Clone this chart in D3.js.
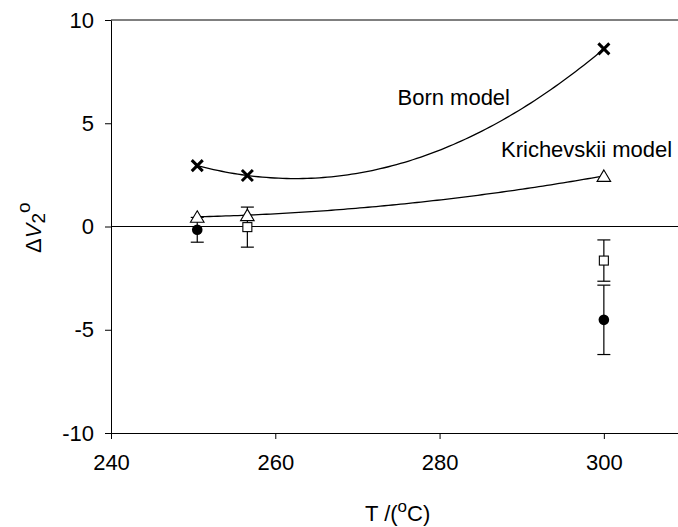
<!DOCTYPE html>
<html>
<head>
<meta charset="utf-8">
<script src="https://cdn.jsdelivr.net/npm/d3@7"></script>
<style>
  body { margin: 0; background: #fff; }
  svg text { font-family: "Liberation Sans", Arial, sans-serif; fill: #000; }
</style>
</head>
<body>
<div id="container"></div>
<script>
// model temperatures and values
var temps = [250.5, 256.6, 300];
var bornVals = [2.95, 2.47, 8.6];
var krichVals = [0.47, 0.55, 2.45];

// experimental points with error bars
var circleT = [250.5, 300];
var circleVals = [-0.16, -4.52];
var circleErr = [0.6, 1.68];

var squareT = [256.6, 300];
var squareVals = [-0.03, -1.65];
var squareErr = [0.97, 1.0];

var xTicks = [240, 260, 280, 300];
var yTicks = [-10, -5, 0, 5, 10];

var vis = {
	w: 678,
	h: 527,

	// quadratic through three points, as the fit lines pass through them
	fitLine: function(xs, ys){
		return function(x){
			var s = 0;
			for (var i = 0; i < xs.length; i++) {
				var p = ys[i];
				for (var j = 0; j < xs.length; j++) {
					if (j !== i) p *= (x - xs[j]) / (xs[i] - xs[j]);
				}
				s += p;
			}
			return s;
		};
	},

	generate: function(){
		var self = vis;

		var x = d3.scaleLinear().domain([240, 310]).range([111, 686]);
		var y = d3.scaleLinear().domain([-10, 10]).range([433, 20]);

		var svg = d3.select('#container').append('svg')
			.attr('width', self.w)
			.attr('height', self.h);

		// frame lines (top and zero line)
		svg.append('line')
			.attr('x1', x(240)).attr('x2', self.w)
			.attr('y1', y(10)).attr('y2', y(10))
			.attr('stroke', '#000').attr('stroke-width', 1);
		svg.append('line')
			.attr('x1', x(240)).attr('x2', self.w)
			.attr('y1', y(0)).attr('y2', y(0))
			.attr('stroke', '#000').attr('stroke-width', 1);

		var fmt = function(d){ return String(d); };

		var xAxis = svg.append('g')
			.attr('transform', 'translate(0,' + y(-10) + ')')
			.call(d3.axisBottom(x).tickValues(xTicks).tickFormat(fmt).tickSize(6).tickPadding(15).tickSizeOuter(0));
		var yAxis = svg.append('g')
			.attr('transform', 'translate(' + x(240) + ',0)')
			.call(d3.axisLeft(y).tickValues(yTicks).tickFormat(fmt).tickSize(6).tickPadding(11).tickSizeOuter(0));

		[xAxis, yAxis].forEach(function(g){
			g.selectAll('text').style('font-size', '22px').style('font-family', '"Liberation Sans", Arial, sans-serif');
			g.selectAll('line,path').attr('stroke', '#000');
			g.select('.domain').attr('stroke-width', 1);
		});
		xAxis.select('.domain').attr('d', 'M' + x(240) + ',0.5H' + self.w);

		// fit curves
		var lineGen = d3.line()
			.x(function(d){ return x(d[0]); })
			.y(function(d){ return y(d[1]); });

		[bornVals, krichVals].forEach(function(vals){
			var f = self.fitLine(temps, vals);
			var pts = d3.range(0, 101).map(function(i){
				var t = temps[0] + (temps[2] - temps[0]) * i / 100;
				return [t, f(t)];
			});
			svg.append('path')
				.attr('d', lineGen(pts))
				.attr('fill', 'none')
				.attr('stroke', '#000')
				.attr('stroke-width', 1.3);
		});

		// error bars
		var errData = [];
		circleT.forEach(function(t, i){ errData.push({t: t, v: circleVals[i], e: circleErr[i]}); });
		squareT.forEach(function(t, i){ errData.push({t: t, v: squareVals[i], e: squareErr[i]}); });

		var eb = svg.selectAll('g.err').data(errData).enter().append('g').classed('err', true);
		eb.append('line')
			.attr('x1', function(d){ return x(d.t); })
			.attr('x2', function(d){ return x(d.t); })
			.attr('y1', function(d){ return y(d.v + d.e); })
			.attr('y2', function(d){ return y(d.v - d.e); })
			.attr('stroke', '#000').attr('stroke-width', 1.2);
		[1, -1].forEach(function(sgn){
			eb.append('line')
				.attr('x1', function(d){ return x(d.t) - 6.5; })
				.attr('x2', function(d){ return x(d.t) + 6.5; })
				.attr('y1', function(d){ return y(d.v + sgn * d.e); })
				.attr('y2', function(d){ return y(d.v + sgn * d.e); })
				.attr('stroke', '#000').attr('stroke-width', 1.2);
		});

		// filled circles
		svg.selectAll('circle.pt').data(circleT).enter().append('circle')
			.classed('pt', true)
			.attr('cx', function(d){ return x(d); })
			.attr('cy', function(d, i){ return y(circleVals[i]); })
			.attr('r', 5.3)
			.attr('fill', '#000');

		// open squares
		svg.selectAll('rect.pt').data(squareT).enter().append('rect')
			.classed('pt', true)
			.attr('x', function(d){ return x(d) - 4.5; })
			.attr('y', function(d, i){ return y(squareVals[i]) - 4.5; })
			.attr('width', 9).attr('height', 9)
			.attr('fill', '#fff').attr('stroke', '#000').attr('stroke-width', 1.1);

		// open triangles (Krichevskii)
		svg.selectAll('path.tri').data(temps).enter().append('path')
			.classed('tri', true)
			.attr('d', function(d, i){
				var cx = x(d), cy = y(krichVals[i]);
				return 'M' + cx + ',' + (cy - 6) + 'L' + (cx + 6.8) + ',' + (cy + 5.5) + 'L' + (cx - 6.8) + ',' + (cy + 5.5) + 'Z';
			})
			.attr('fill', '#fff').attr('stroke', '#000').attr('stroke-width', 1.1);

		// crosses (Born)
		svg.selectAll('path.cross').data(temps).enter().append('path')
			.classed('cross', true)
			.attr('d', function(d, i){
				var cx = x(d), cy = y(bornVals[i]), s = 5.5;
				return 'M' + (cx - s) + ',' + (cy - s) + 'L' + (cx + s) + ',' + (cy + s) +
					'M' + (cx + s) + ',' + (cy - s) + 'L' + (cx - s) + ',' + (cy + s);
			})
			.attr('stroke', '#000').attr('stroke-width', 3).attr('fill', 'none');

		// curve labels
		svg.append('text')
			.attr('x', 510).attr('y', 105)
			.attr('text-anchor', 'end')
			.style('font-size', '22px')
			.text('Born model');
		svg.append('text')
			.attr('x', 501).attr('y', 157)
			.style('font-size', '22px')
			.text('Krichevskii model');

		// axis titles
		var xt = svg.append('text')
			.attr('x', 365).attr('y', 521)
			.style('font-size', '22px');
		xt.append('tspan').text('T /(');
		xt.append('tspan').attr('dy', -9).style('font-size', '17px').text('o');
		xt.append('tspan').attr('dy', 9).text('C)');

		var yt = svg.append('text')
			.attr('transform', 'translate(41,' + 253 + ') rotate(-90)')
			.style('font-size', '22px');
		yt.append('tspan').text('\u0394');
		yt.append('tspan').style('font-style', 'italic').text('V');
		yt.append('tspan').attr('dy', 4).style('font-size', '19px').text('2');
		yt.append('tspan').attr('dy', -15).style('font-size', '19px').text('o');
	}
};

vis.generate();
</script>
</body>
</html>
